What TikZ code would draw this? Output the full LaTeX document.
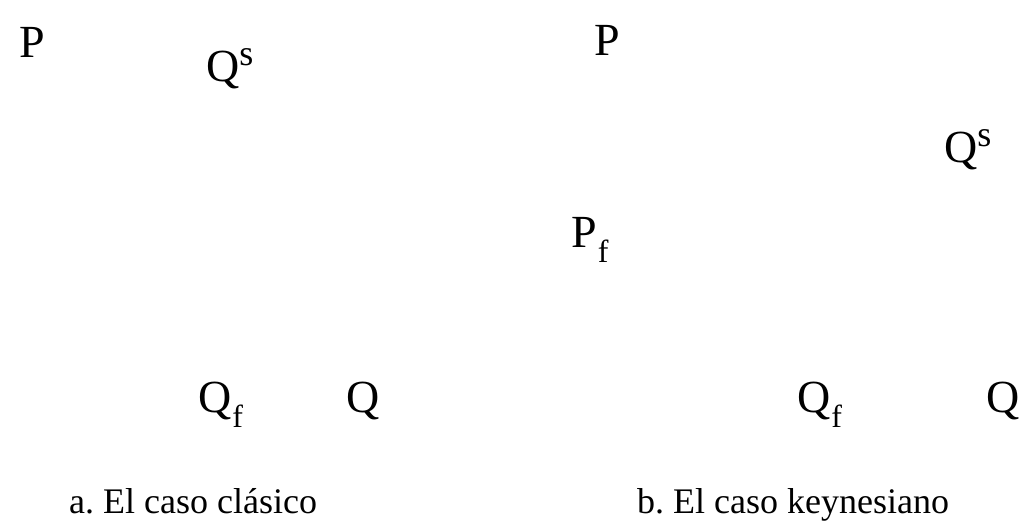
\documentclass[tikz,border=0pt]{standalone}
\usepackage{fontspec}
\setmainfont{Liberation Serif}
\frenchspacing
\newcommand{\symfont}{\fontsize{46}{50}\selectfont}
\newcommand{\capfont}{\fontsize{36}{40}\selectfont}
\newcommand{\supS}{\raisebox{16pt}{\fontsize{36}{38}\selectfont s}}
\newcommand{\subF}{\kern1pt\raisebox{-15pt}{\fontsize{32}{34}\selectfont f}}
\tikzset{
  lbl/.style={anchor=base west, inner sep=0pt, font=\symfont},
  captxt/.style={anchor=base west, inner sep=0pt, font=\capfont}
}
\begin{document}
\begin{tikzpicture}[x=1pt,y=-1pt]
\useasboundingbox (0,0) rectangle (1021,522);
% panel a
\node[lbl] (pa) at (19,57) {P};
\node[lbl] (qsa) at (206,81) {Q\supS};
\node[lbl] (qfa) at (198,412) {Q\subF};
\node[lbl] (qa) at (346,412) {Q};
\node[captxt] (capa) at (69,513) {a. El caso clásico};
% panel b
\node[lbl] (pb) at (594,56) {P};
\node[lbl] (qsb) at (944,162) {Q\supS};
\node[lbl] (pfb) at (571,247) {P\subF};
\node[lbl] (qfb) at (797,412) {Q\subF};
\node[lbl] (qb) at (986,412) {Q};
\node[captxt] (capb) at (637,513) {b. El caso keynesiano};
\end{tikzpicture}
\end{document}
